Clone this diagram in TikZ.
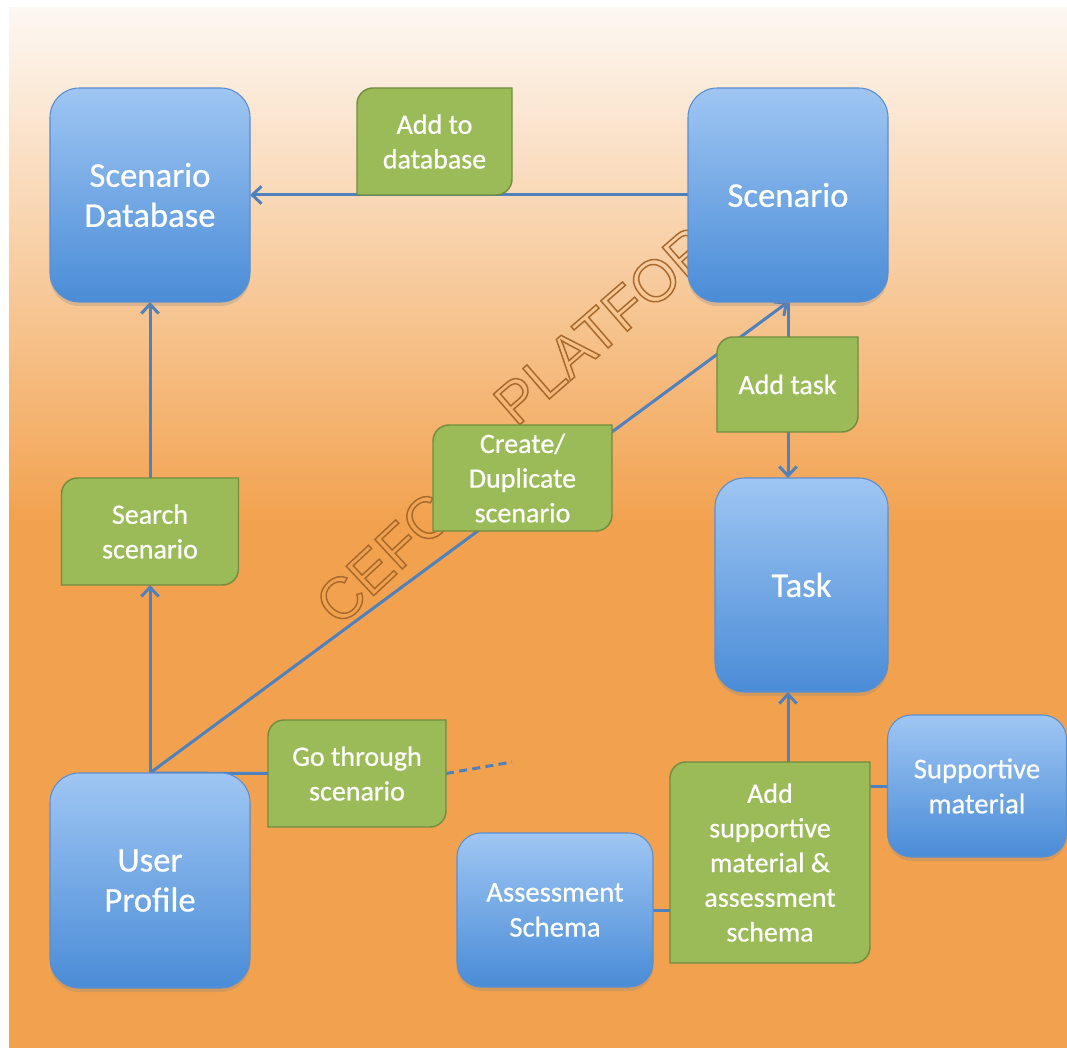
\documentclass[tikz,border=0pt]{standalone}
\usepackage{fontspec}
\setmainfont{Carlito}[FakeBold=0.6]
\newfontfamily\wmfont{Liberation Sans}
\usetikzlibrary{arrows.meta,shadows}
\definecolor{bgtop}{HTML}{FDF8F3}
\definecolor{bgmid}{HTML}{F8D2AC}
\definecolor{bgorange}{HTML}{F2A24F}
\definecolor{bluetop}{HTML}{9FC6F3}
\definecolor{bluebot}{HTML}{4A8CD7}
\definecolor{blueedge}{HTML}{5A8ECF}
\definecolor{gfill}{HTML}{9BBB59}
\definecolor{gedge}{HTML}{738C3E}
\definecolor{conn}{HTML}{4F81BD}
\definecolor{wmcol}{HTML}{A8692C}
\pgfdeclarelayer{bglayer}
\pgfdeclarelayer{wmlayer}
\pgfdeclarelayer{linelayer}
\pgfdeclarelayer{shapelayer}
\pgfsetlayers{bglayer,wmlayer,linelayer,shapelayer,main}
\newcommand\outl[1]{\special{pdf:literal direct 1 Tr 1.1 w}#1\special{pdf:literal direct 0 Tr}}
\tikzset{
  bluebox/.style={rectangle, rounded corners=22pt, draw=blueedge, line width=0.8pt,
    top color=bluetop, bottom color=bluebot, text=white,
    font=\fontsize{26}{30}\selectfont, align=center, inner sep=0pt, outer sep=0pt,
    drop shadow={opacity=0.25, shadow xshift=0pt, shadow yshift=-3pt}},
  smallblue/.style={bluebox, rounded corners=18pt, font=\fontsize{21.5}{26.25}\selectfont},
  greenbox/.style={rectangle, inner sep=0pt, outer sep=0pt, text=white,
    font=\fontsize{21}{26}\selectfont, align=center},
  conline/.style={draw=conn, line width=2.25pt},
  arr/.style={conline, -{Straight Barb[length=7pt,width=13pt]}},
  wmark/.style={anchor=base west, text=wmcol, inner sep=0pt,
    font=\wmfont\fontsize{44}{50}\selectfont},
}
\newcommand\greenshape[1]{%
  \begin{pgfonlayer}{shapelayer}
    \filldraw[fill=gfill, draw=gedge, line width=1.1pt]
      (#1.north east) -- ([yshift=12pt]#1.south east)
      .. controls ([yshift=5.4pt]#1.south east) and ([xshift=-5.4pt]#1.south east) .. ([xshift=-12pt]#1.south east)
      -- (#1.south west) -- ([yshift=-12pt]#1.north west)
      .. controls ([yshift=-5.4pt]#1.north west) and ([xshift=5.4pt]#1.north west) .. ([xshift=12pt]#1.north west) -- cycle;
  \end{pgfonlayer}}
\begin{document}
\begin{tikzpicture}[x=0.75pt, y=-0.75pt]
\useasboundingbox (0,0) rectangle (1067,1048);
\begin{pgfonlayer}{bglayer}
  \fill[white] (0,0) rectangle (1067,1048);
  \shade[top color=bgtop, middle color=bgmid, bottom color=bgorange] (9,8) rectangle (1067,521);
  \fill[bgorange] (9,520) rectangle (1067,1048);
\end{pgfonlayer}
\begin{pgfonlayer}{wmlayer}
  \node[wmark, rotate=43] (wm1) at (339,628) {\outl{CEFC}};
  \node[wmark, rotate=41] (wm2) at (516,428) {\outl{PLATFOR}};
\end{pgfonlayer}

% blue boxes
\node[bluebox, minimum width=150pt, minimum height=160.5pt] (sdb) at (150,195) {Scenario\\Database};
\node[bluebox, minimum width=150pt, minimum height=160.5pt] (scen) at (788,195) {Scenario};
\node[bluebox, minimum width=150pt, minimum height=161.25pt] (user) at (150,880.5) {User\\Profile};
\node[bluebox, minimum width=129.75pt, minimum height=160.5pt] (task) at (801.5,585) {Task};
\node[smallblue, minimum width=134.25pt, minimum height=106.5pt] (supp) at (977,786) {Supportive\\material};
\node[smallblue, minimum width=147pt, minimum height=115.5pt] (assess) at (555,910) {Assessment\\Schema};

% green boxes
\node[greenbox, minimum width=116.25pt, minimum height=80.25pt] (adddb) at (434.5,141.5) {Add to\\database};
\node[greenbox, minimum width=132.75pt, minimum height=80.25pt] (search) at (150,531.5) {Search\\scenario};
\node[greenbox, minimum width=134.25pt, minimum height=79.5pt] (create) at (522.5,478) {Create/\\Duplicate\\scenario};
\node[greenbox, minimum width=105.75pt, minimum height=71.25pt] (addtask) at (787.5,384.5) {Add task};
\node[greenbox, minimum width=133.5pt, minimum height=80.25pt] (go) at (357,773.5) {Go through\\scenario};
\node[greenbox, minimum width=150pt, minimum height=150.75pt] (addsup) at (770,862.5) {Add\\supportive\\material \&\\assessment\\schema};
\greenshape{adddb}
\greenshape{search}
\greenshape{create}
\greenshape{addtask}
\greenshape{go}
\greenshape{addsup}

% connectors
\coordinate (goend) at (512,762);
\begin{pgfonlayer}{linelayer}
  \draw[arr] (scen.west) -- (sdb.east);
  \draw[arr] (user.north) -- (search.south);
  \draw[arr] (search.north) -- (sdb.south);
  \draw[arr] (user.north) -- (scen.south);
  \draw[arr] (scen.south) -- (scen.south |- task.north);
  \draw[conline] (user.north) -- (go.west);
  \draw[conline, dash pattern=on 6pt off 4pt] (go.east) -- (goend);
  \draw[arr] (scen.south |- addsup.north) -- (scen.south |- task.south);
  \draw[conline] (addsup.east |- supp.west) -- (supp.west);
  \draw[conline] (assess.east) -- (assess.east -| addsup.west);
\end{pgfonlayer}
\end{tikzpicture}
\end{document}
